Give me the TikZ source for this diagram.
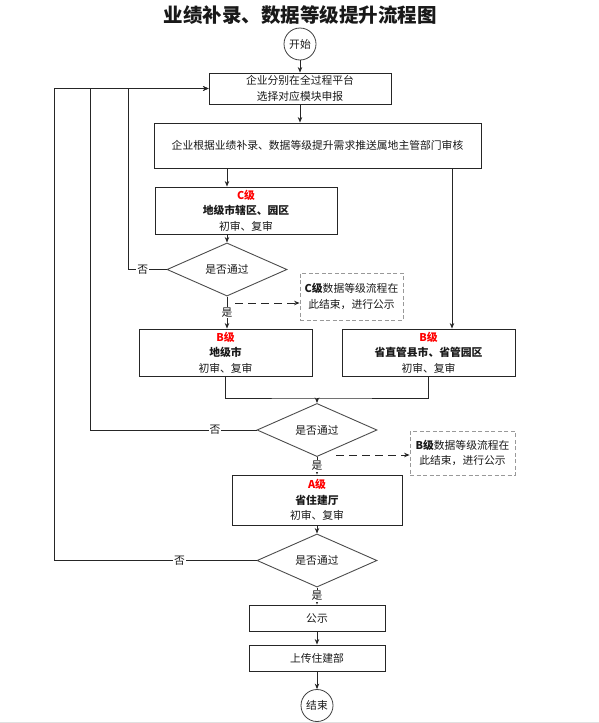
\documentclass[tikz,border=0pt]{standalone}
\usepackage{fontspec}
\setmainfont{Noto Sans CJK SC}
\usetikzlibrary{shapes.geometric,arrows.meta}

\begin{document}
\begin{tikzpicture}[x=1pt,y=-1pt,
   >={Stealth[length=5.5pt,width=4.5pt]},
   every node/.style={font=\fontsize{10.8}{15.5}\selectfont,text=black!90},
   box/.style={draw=black!85,line width=0.9pt,align=center,inner sep=0pt},
   judge/.style={diamond,draw=black!70,line width=0.9pt,inner sep=0pt},
   term/.style={circle,draw=black!75,line width=0.8pt,minimum size=32pt,inner sep=0pt},
   note/.style={draw=black!40,line width=0.8pt,dash pattern=on 4pt off 2.5pt,align=center,inner sep=0pt},
   link/.style={draw=black!85,line width=0.9pt},
   lab/.style={fill=white,inner sep=1pt}]
   \useasboundingbox (0,0) rectangle (599,723);
   \fill[black!12] (0,721.5) rectangle (599,723);

   \node[font=\fontsize{19.5}{20}\selectfont\bfseries] (title) at (300,15)
      {业绩补录、数据等级提升流程图};
   \node[term] (start) at (300,44) {开始};
   \node[box,minimum width=182pt,minimum height=31pt] (apply) at (300,88.5)
      {企业分别在全过程平台\\选择对应模块申报};
   \node[box,minimum width=327pt,minimum height=45pt] (push) at (317.5,145.5)
      {企业根据业绩补录、数据等级提升需求推送属地主管部门审核};
   \node[box,minimum width=182pt,minimum height=47pt] (gradeC) at (246,210.5)
      {\textcolor{red}{\bfseries C级}\\{\bfseries 地级市辖区、园区}\\初审、复审};
   \node[judge,minimum width=120pt,minimum height=35pt] (judgeC) at (227,269.5) {是否通过};
   \node[note,minimum width=103pt,minimum height=47pt] (noteC) at (351.5,296.5)
      {{\bfseries C级}数据等级流程在\\此结束，进行公示};
   \node[box,minimum width=173pt,minimum height=47pt] (gradeBl) at (225.5,352.5)
      {\textcolor{red}{\bfseries B级}\\{\bfseries 地级市}\\初审、复审};
   \node[box,minimum width=173pt,minimum height=47pt] (gradeBr) at (428.5,352.5)
      {\textcolor{red}{\bfseries B级}\\{\bfseries 省直管县市、省管园区}\\初审、复审};
   \node[judge,minimum width=120pt,minimum height=34pt] (judgeB) at (317,430) {是否通过};
   \node[note,minimum width=105pt,minimum height=44pt] (noteB) at (462.5,453)
      {{\bfseries B级}数据等级流程在\\此结束，进行公示};
   \node[box,minimum width=170pt,minimum height=50pt] (gradeA) at (317,500)
      {\textcolor{red}{\bfseries A级}\\{\bfseries 省住建厅}\\初审、复审};
   \node[judge,minimum width=120pt,minimum height=35pt] (judgeA) at (317,560.5) {是否通过};
   \node[box,minimum width=136pt,minimum height=26pt] (publish) at (317,618) {公示};
   \node[box,minimum width=136pt,minimum height=26pt] (upload) at (317,658) {上传住建部};
   \node[term] (end) at (317,705.5) {结束};

   \coordinate (backA) at (54,0);
   \coordinate (backB) at (90,0);
   \coordinate (backC) at (128,0);
   \coordinate (toBr) at (452,0);
   \coordinate (merge) at (317,398);
   \coordinate (dashC) at (235,303);
   \coordinate (dashB) at (336,455);

   \draw[link,->] (start) -- (apply);
   \draw[link,->] (apply.south) -- (apply.south |- push.north);
   \draw[link,->] (push.south -| judgeC) -- (gradeC.north -| judgeC);
   \draw[link,->] (push.south -| toBr) -- (gradeBr.north -| toBr);
   \draw[link,->] (gradeC.south -| judgeC) -- (judgeC);
   \draw[link,->] (judgeC.west) -- node[lab,pos=0.62]{否} (judgeC.west -| backC) |- (apply.west);
   \draw[link,->] (judgeC.south) -- node[lab]{是} (judgeC.south |- gradeBl.north);
   \draw[link,dash pattern=on 8pt off 5pt,->] (dashC) -- (dashC -| noteC.west);

   \draw[link] (gradeBl) |- (merge) -| (gradeBr);
   \draw[link,->] (merge) -- (judgeB);
   \draw[link,->] (judgeB.west) -- node[lab,pos=0.25]{否} (judgeB.west -| backB) |- (apply.west);
   \draw[link,->] (judgeB.south) -- node[lab]{是} (gradeA);
   \draw[link,dash pattern=on 8pt off 5pt,->] (dashB) -- (dashB -| noteB.west);

   \draw[link,->] (gradeA) -- (judgeA);
   \draw[link,->] (judgeA.west) -- node[lab,pos=0.38]{否} (judgeA.west -| backA) |- (apply.west);
   \draw[link,->] (judgeA.south) -- node[lab]{是} (publish);
   \draw[link,->] (publish) -- (upload);
   \draw[link,->] (upload) -- (end);
\end{tikzpicture}
\end{document}
